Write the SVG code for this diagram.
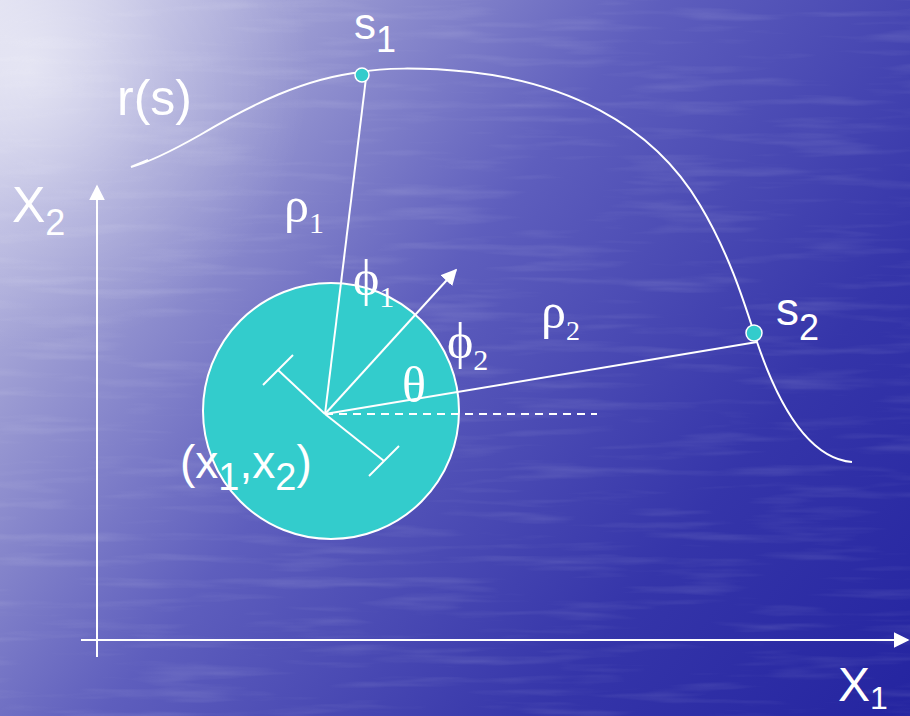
<svg xmlns="http://www.w3.org/2000/svg" width="910" height="716" viewBox="0 0 910 716">
<defs>
<linearGradient id="bg" x1="0" y1="0" x2="910" y2="716" gradientUnits="userSpaceOnUse">
<stop offset="0" stop-color="#d4d4ec"/>
<stop offset="0.22" stop-color="#9a9ad2"/>
<stop offset="0.45" stop-color="#5e5ebd"/>
<stop offset="0.75" stop-color="#3535a9"/>
<stop offset="1" stop-color="#2424a0"/>
</linearGradient>
<radialGradient id="glow" cx="30" cy="70" r="280" gradientUnits="userSpaceOnUse">
<stop offset="0" stop-color="#ffffff" stop-opacity="0.55"/>
<stop offset="0.5" stop-color="#ffffff" stop-opacity="0.2"/>
<stop offset="1" stop-color="#ffffff" stop-opacity="0"/>
</radialGradient>
<filter id="water" x="0" y="0" width="100%" height="100%">
<feTurbulence type="fractalNoise" baseFrequency="0.008 0.09" numOctaves="3" seed="4"/>
<feColorMatrix type="matrix" values="0 0 0 0 1  0 0 0 0 1  0 0 0 0 1  0 0 0 1.2 -0.6"/>
</filter>
<marker id="ahb" viewBox="0 0 10 10" refX="9" refY="5" markerWidth="16" markerHeight="16" markerUnits="userSpaceOnUse" orient="auto">
<path d="M0,0 L10,5 L0,10 z" fill="#ffffff"/>
</marker>
<style>
.ln{stroke:#ffffff;stroke-width:2;fill:none}
.sans{font-family:"Liberation Sans",Arial,sans-serif;fill:#ffffff}
.ser{font-family:"Liberation Serif","DejaVu Serif",serif;fill:#ffffff}
.ax{font-family:"Liberation Sans Narrow","Liberation Sans",sans-serif;fill:#ffffff}
.dot{fill:#33cccc;stroke:#ffffff;stroke-width:1.5}
</style>
</defs>
<g id="background">
<rect width="910" height="716" fill="url(#bg)"/>
<rect width="910" height="716" fill="url(#glow)"/>
<rect width="910" height="716" filter="url(#water)" opacity="0.22"/>
</g>
<g id="body">
<circle cx="331" cy="411" r="128" fill="#33cccc" stroke="#ffffff" stroke-width="2"/>
</g>
<g id="connectors">
<line class="ln" x1="97" y1="657" x2="97" y2="186" marker-end="url(#ahb)"/>
<line class="ln" x1="81" y1="640" x2="908" y2="640" marker-end="url(#ahb)"/>
<path class="ln" d="M148,160 L131,167 C150,162 170,152 200,135 C250,105 305,78 362,72 C380,68 420,67 470,72 C560,82 650,120 700,205 C730,255 745,305 757,342 C775,395 805,458 852,462"/>
<line class="ln" x1="325" y1="414" x2="366" y2="78"/>
<line class="ln" x1="325" y1="414" x2="757" y2="342"/>
<line class="ln" x1="325" y1="414" x2="597" y2="414" stroke-dasharray="8,6" stroke-width="1.5"/>
<line class="ln" x1="325" y1="414" x2="456" y2="270" marker-end="url(#ahb)"/>
<line class="ln" x1="325" y1="414" x2="278" y2="370"/>
<line class="ln" x1="263" y1="385" x2="293" y2="355"/>
<line class="ln" x1="325" y1="414" x2="384" y2="461"/>
<line class="ln" x1="369" y1="476" x2="399" y2="446"/>
</g>
<g id="s1">
<circle class="dot" cx="362" cy="75" r="7"/>
<text class="sans" x="354" y="39" font-size="44">s<tspan font-size="36" dy="13">1</tspan></text>
</g>
<g id="s2">
<circle class="dot" cx="754" cy="333" r="8"/>
<text class="sans" x="776" y="325" font-size="46">s<tspan font-size="36" dy="15">2</tspan></text>
</g>
<g id="labels">
<text class="sans" x="117" y="115" font-size="50">r(s)</text>
<text class="sans" x="180" y="478" font-size="46">(x<tspan font-size="38" dy="12">1</tspan><tspan dy="-12">,x</tspan><tspan font-size="38" dy="12">2</tspan><tspan dy="-12">)</tspan></text>
<text class="ser" x="284" y="222" font-size="50">ρ<tspan font-size="30" dy="11">1</tspan></text>
<text class="ser" x="353" y="295" font-size="50">ϕ<tspan font-size="30" dy="12">1</tspan></text>
<text class="ser" x="447" y="358" font-size="50">ϕ<tspan font-size="30" dy="12">2</tspan></text>
<text class="ser" x="402" y="402" font-size="50">θ</text>
<text class="ser" x="541" y="328" font-size="50">ρ<tspan font-size="28" dy="12">2</tspan></text>
<text class="ax" x="12" y="222" font-size="50">X<tspan font-size="36" dy="13">2</tspan></text>
<text class="ax" x="838" y="701" font-size="48">X<tspan font-size="32" dy="8">1</tspan></text>
</g>
</svg>
